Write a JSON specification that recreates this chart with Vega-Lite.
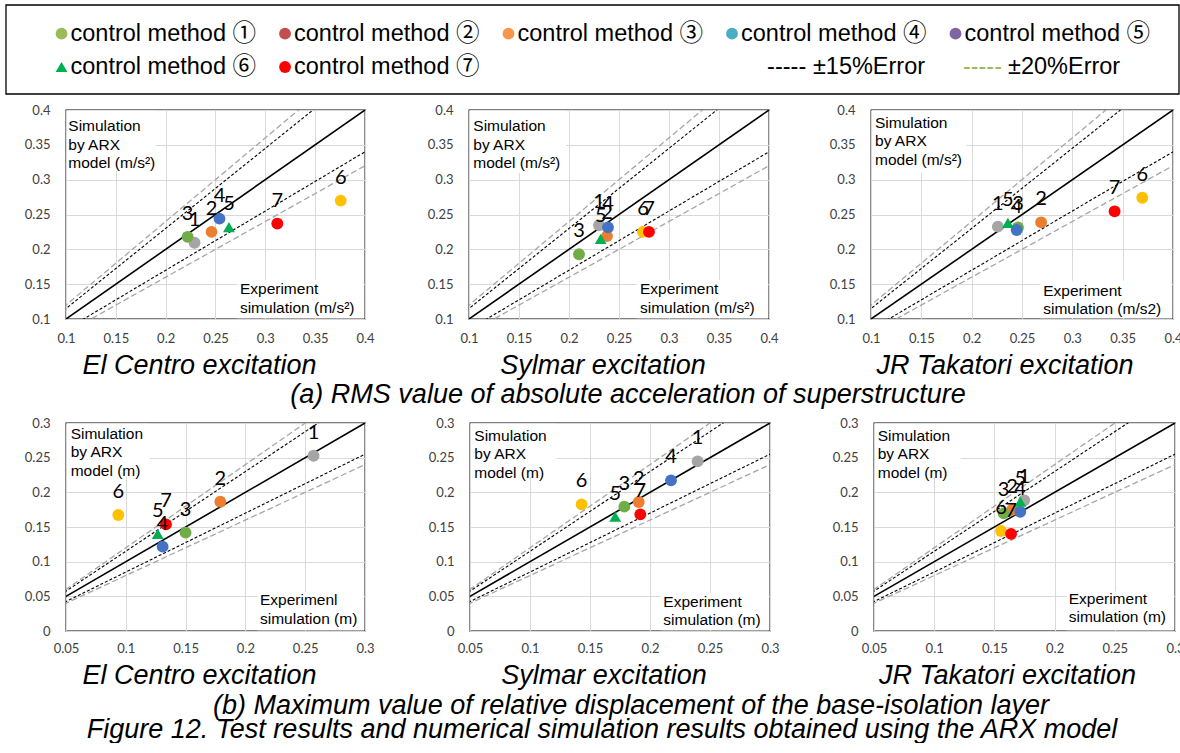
{
  "$schema": "https://vega.github.io/schema/vega-lite/v6.json",
  "background": "white",
  "padding": {"left": 5, "top": 4, "right": 0, "bottom": 0},
  "spacing": 8,
  "resolve": {"scale": {"color": "independent", "shape": "independent"}},
  "title": {"text": "Figure 12. Test results and numerical simulation results obtained using the ARX model", "orient": "bottom", "anchor": "middle", "offset": -2, "dx": 7},
  "datasets": {
    "legend": [
      {"method": "①", "label": "control method ①", "col": 0, "row": 1},
      {"method": "②", "label": "control method ②", "col": 1, "row": 1},
      {"method": "③", "label": "control method ③", "col": 2, "row": 1},
      {"method": "④", "label": "control method ④", "col": 3, "row": 1},
      {"method": "⑤", "label": "control method ⑤", "col": 4, "row": 1},
      {"method": "⑥", "label": "control method ⑥", "col": 0, "row": 2},
      {"method": "⑦", "label": "control method ⑦", "col": 1, "row": 2}
    ],
    "lines": [
      {"k": "1", "x": 0, "y": 0}, {"k": "1", "x": 0.5, "y": 0.5},
      {"k": "1.15", "x": 0, "y": 0}, {"k": "1.15", "x": 0.5, "y": 0.575},
      {"k": "0.85", "x": 0, "y": 0}, {"k": "0.85", "x": 0.5, "y": 0.425},
      {"k": "1.2", "x": 0, "y": 0}, {"k": "1.2", "x": 0.5, "y": 0.6},
      {"k": "0.8", "x": 0, "y": 0}, {"k": "0.8", "x": 0.5, "y": 0.4}
    ],
    "pts": [
      {"panel": "a1", "method": 1, "x": 0.229, "y": 0.2095},
      {"panel": "a1", "method": 2, "x": 0.246, "y": 0.225},
      {"panel": "a1", "method": 3, "x": 0.222, "y": 0.218},
      {"panel": "a1", "method": 4, "x": 0.254, "y": 0.244},
      {"panel": "a1", "method": 5, "x": 0.2635, "y": 0.232},
      {"panel": "a1", "method": 6, "x": 0.3756, "y": 0.27},
      {"panel": "a1", "method": 7, "x": 0.312, "y": 0.237},
      {"panel": "a2", "method": 1, "x": 0.23, "y": 0.2345},
      {"panel": "a2", "method": 2, "x": 0.238, "y": 0.219},
      {"panel": "a2", "method": 3, "x": 0.21, "y": 0.193},
      {"panel": "a2", "method": 4, "x": 0.239, "y": 0.2316},
      {"panel": "a2", "method": 5, "x": 0.2317, "y": 0.215},
      {"panel": "a2", "method": 6, "x": 0.274, "y": 0.225},
      {"panel": "a2", "method": 7, "x": 0.28, "y": 0.225},
      {"panel": "a3", "method": 1, "x": 0.226, "y": 0.2325},
      {"panel": "a3", "method": 2, "x": 0.269, "y": 0.2388},
      {"panel": "a3", "method": 3, "x": 0.246, "y": 0.2316},
      {"panel": "a3", "method": 4, "x": 0.2447, "y": 0.2278},
      {"panel": "a3", "method": 5, "x": 0.236, "y": 0.238},
      {"panel": "a3", "method": 6, "x": 0.3695, "y": 0.274},
      {"panel": "a3", "method": 7, "x": 0.342, "y": 0.2546},
      {"panel": "b1", "method": 1, "x": 0.257, "y": 0.2528},
      {"panel": "b1", "method": 2, "x": 0.179, "y": 0.1865},
      {"panel": "b1", "method": 3, "x": 0.15, "y": 0.1418},
      {"panel": "b1", "method": 4, "x": 0.1308, "y": 0.1216},
      {"panel": "b1", "method": 5, "x": 0.1267, "y": 0.14},
      {"panel": "b1", "method": 6, "x": 0.0937, "y": 0.1673},
      {"panel": "b1", "method": 7, "x": 0.1336, "y": 0.1538},
      {"panel": "b2", "method": 1, "x": 0.2397, "y": 0.2447},
      {"panel": "b2", "method": 2, "x": 0.1906, "y": 0.186},
      {"panel": "b2", "method": 3, "x": 0.1786, "y": 0.1793},
      {"panel": "b2", "method": 4, "x": 0.2175, "y": 0.2173},
      {"panel": "b2", "method": 5, "x": 0.171, "y": 0.165},
      {"panel": "b2", "method": 6, "x": 0.143, "y": 0.1827},
      {"panel": "b2", "method": 7, "x": 0.1919, "y": 0.1683},
      {"panel": "b3", "method": 1, "x": 0.1748, "y": 0.1885},
      {"panel": "b3", "method": 2, "x": 0.1646, "y": 0.1745},
      {"panel": "b3", "method": 3, "x": 0.1577, "y": 0.1697},
      {"panel": "b3", "method": 4, "x": 0.1715, "y": 0.172},
      {"panel": "b3", "method": 5, "x": 0.1715, "y": 0.1865},
      {"panel": "b3", "method": 6, "x": 0.1555, "y": 0.1442},
      {"panel": "b3", "method": 7, "x": 0.1638, "y": 0.14}
    ]
  },
  "vconcat": [
    {
      "width": 1113,
      "height": 89,
      "view": {"stroke": null},
      "layer": [
        {
          "data": {"values": [{}]},
          "mark": {"type": "rect", "fill": null, "stroke": "#000000", "strokeWidth": 1.3, "clip": false},
          "encoding": {
            "x": {"datum": -0.2485, "type": "quantitative", "scale": {"domain": [0.02, 5], "nice": false, "zero": false}, "axis": null}, "x2": {"datum": 5},
            "y": {"datum": 0.14, "type": "quantitative", "scale": {"domain": [0.14, 2.81], "reverse": true, "nice": false, "zero": false}, "axis": null}, "y2": {"datum": 2.81}
          }
        },
        {
          "data": {"name": "legend"},
          "mark": {"type": "point", "filled": true, "opacity": 1, "size": 140, "clip": false},
          "encoding": {
            "x": {"field": "col", "type": "quantitative", "scale": {"domain": [0.02, 5], "nice": false, "zero": false}, "axis": null},
            "y": {"field": "row", "type": "quantitative", "scale": {"domain": [0.14, 2.81], "reverse": true, "nice": false, "zero": false}, "axis": null},
            "color": {"field": "method", "type": "nominal", "scale": {"domain": ["①", "②", "③", "④", "⑤", "⑥", "⑦"], "range": ["#9BBB59", "#C0504D", "#F79646", "#4BACC6", "#8064A2", "#00B050", "#FF0000"]}, "legend": null},
            "shape": {"field": "method", "type": "nominal", "scale": {"domain": ["①", "②", "③", "④", "⑤", "⑥", "⑦"], "range": ["circle", "circle", "circle", "circle", "circle", "triangle-up", "circle"]}, "legend": null}
          }
        },
        {
          "data": {"name": "legend"},
          "mark": {"type": "text", "align": "left", "baseline": "middle", "dx": 9, "font": "Liberation Sans, Noto Sans CJK JP", "fontSize": 23.5, "color": "#000000"},
          "encoding": {
            "x": {"field": "col", "type": "quantitative", "scale": {"domain": [0.02, 5], "nice": false, "zero": false}, "axis": null},
            "y": {"field": "row", "type": "quantitative", "scale": {"domain": [0.14, 2.81], "reverse": true, "nice": false, "zero": false}, "axis": null},
            "text": {"field": "label"}
          }
        },
        {
          "data": {"values": [{}]},
          "mark": {"type": "text", "align": "left", "baseline": "middle", "font": "Liberation Sans", "fontSize": 23.5, "color": "#000000", "text": "-----"},
          "encoding": {"x": {"datum": 3.157, "type": "quantitative", "scale": {"domain": [0.02, 5], "nice": false, "zero": false}, "axis": null}, "y": {"datum": 2, "type": "quantitative", "scale": {"domain": [0.14, 2.81], "reverse": true, "nice": false, "zero": false}, "axis": null}}
        },
        {
          "data": {"values": [{}]},
          "mark": {"type": "text", "align": "left", "baseline": "middle", "font": "Liberation Sans, Noto Sans CJK JP", "fontSize": 23.5, "color": "#000000", "text": "±15%Error"},
          "encoding": {"x": {"datum": 3.362, "type": "quantitative", "scale": {"domain": [0.02, 5], "nice": false, "zero": false}, "axis": null}, "y": {"datum": 2, "type": "quantitative", "scale": {"domain": [0.14, 2.81], "reverse": true, "nice": false, "zero": false}, "axis": null}}
        },
        {
          "data": {"values": [{}]},
          "mark": {"type": "text", "align": "left", "baseline": "middle", "font": "Liberation Sans", "fontSize": 23.5, "color": "#9BBB59", "text": "-----"},
          "encoding": {"x": {"datum": 4.033, "type": "quantitative", "scale": {"domain": [0.02, 5], "nice": false, "zero": false}, "axis": null}, "y": {"datum": 2, "type": "quantitative", "scale": {"domain": [0.14, 2.81], "reverse": true, "nice": false, "zero": false}, "axis": null}}
        },
        {
          "data": {"values": [{}]},
          "mark": {"type": "text", "align": "left", "baseline": "middle", "font": "Liberation Sans, Noto Sans CJK JP", "fontSize": 23.5, "color": "#000000", "text": "±20%Error"},
          "encoding": {"x": {"datum": 4.235, "type": "quantitative", "scale": {"domain": [0.02, 5], "nice": false, "zero": false}, "axis": null}, "y": {"datum": 2, "type": "quantitative", "scale": {"domain": [0.14, 2.81], "reverse": true, "nice": false, "zero": false}, "axis": null}}
        }
      ]
    },
    {
      "title": {"text": "(a)  RMS value of absolute acceleration of superstructure", "orient": "bottom", "anchor": "middle", "offset": 2, "dx": 34},
      "spacing": 0,
      "hconcat": [
        {
          "width": 299, "height": 209,
          "title": {"text": "El Centro excitation", "orient": "bottom", "frame": "group", "dx": -16, "offset": 8},
          "layer": [
            {"data": {"values": [{}]}, "mark": {"type": "rect", "fill": "white"},
             "encoding": {"x": {"datum": 0.101, "type": "quantitative", "scale": {"domain": [0.1, 0.4], "nice": false, "zero": false}, "axis": {"title": null, "values": [0.1, 0.15, 0.2, 0.25, 0.3, 0.35, 0.4], "labelPadding": 13}}, "x2": {"datum": 0.19},
               "y": {"datum": 0.312, "type": "quantitative", "scale": {"domain": [0.1, 0.4], "nice": false, "zero": false}, "axis": {"title": null, "values": [0.1, 0.15, 0.2, 0.25, 0.3, 0.35, 0.4], "minExtent": 60}}, "y2": {"datum": 0.399}}},
            {"data": {"values": [{}]}, "mark": {"type": "rect", "fill": "white"},
             "encoding": {"x": {"datum": 0.272, "type": "quantitative", "scale": {"domain": [0.1, 0.4], "nice": false, "zero": false}, "axis": {"title": null, "values": [0.1, 0.15, 0.2, 0.25, 0.3, 0.35, 0.4], "labelPadding": 13}}, "x2": {"datum": 0.399},
               "y": {"datum": 0.101, "type": "quantitative", "scale": {"domain": [0.1, 0.4], "nice": false, "zero": false}, "axis": {"title": null, "values": [0.1, 0.15, 0.2, 0.25, 0.3, 0.35, 0.4], "minExtent": 60}}, "y2": {"datum": 0.156}}},
            {"data": {"name": "lines"}, "transform": [{"filter": "datum.k === '1.2' || datum.k === '0.8'"}], "mark": {"type": "line", "clip": true, "color": "#A6A6A6", "strokeWidth": 1.3, "strokeDash": [6, 3]},
             "encoding": {"x": {"field": "x", "type": "quantitative", "scale": {"domain": [0.1, 0.4], "nice": false, "zero": false}, "axis": {"title": null, "values": [0.1, 0.15, 0.2, 0.25, 0.3, 0.35, 0.4], "labelPadding": 13}},
               "y": {"field": "y", "type": "quantitative", "scale": {"domain": [0.1, 0.4], "nice": false, "zero": false}, "axis": {"title": null, "values": [0.1, 0.15, 0.2, 0.25, 0.3, 0.35, 0.4], "minExtent": 60}}, "detail": {"field": "k"}}},
            {"data": {"name": "lines"}, "transform": [{"filter": "datum.k === '1.15' || datum.k === '0.85'"}], "mark": {"type": "line", "clip": true, "color": "#000000", "strokeWidth": 1.1, "strokeDash": [3, 2]},
             "encoding": {"x": {"field": "x", "type": "quantitative", "scale": {"domain": [0.1, 0.4], "nice": false, "zero": false}, "axis": {"title": null, "values": [0.1, 0.15, 0.2, 0.25, 0.3, 0.35, 0.4], "labelPadding": 13}},
               "y": {"field": "y", "type": "quantitative", "scale": {"domain": [0.1, 0.4], "nice": false, "zero": false}, "axis": {"title": null, "values": [0.1, 0.15, 0.2, 0.25, 0.3, 0.35, 0.4], "minExtent": 60}}, "detail": {"field": "k"}}},
            {"data": {"name": "lines"}, "transform": [{"filter": "datum.k === '1'"}], "mark": {"type": "line", "clip": true, "color": "#000000", "strokeWidth": 1.6},
             "encoding": {"x": {"field": "x", "type": "quantitative", "scale": {"domain": [0.1, 0.4], "nice": false, "zero": false}, "axis": {"title": null, "values": [0.1, 0.15, 0.2, 0.25, 0.3, 0.35, 0.4], "labelPadding": 13}},
               "y": {"field": "y", "type": "quantitative", "scale": {"domain": [0.1, 0.4], "nice": false, "zero": false}, "axis": {"title": null, "values": [0.1, 0.15, 0.2, 0.25, 0.3, 0.35, 0.4], "minExtent": 60}}, "detail": {"field": "k"}}},
            {"data": {"name": "pts"}, "transform": [{"filter": "datum.panel === 'a1'"}], "mark": {"type": "point", "filled": true, "opacity": 1, "size": 140},
             "encoding": {"x": {"field": "x", "type": "quantitative", "scale": {"domain": [0.1, 0.4], "nice": false, "zero": false}, "axis": {"title": null, "values": [0.1, 0.15, 0.2, 0.25, 0.3, 0.35, 0.4], "labelPadding": 13}},
               "y": {"field": "y", "type": "quantitative", "scale": {"domain": [0.1, 0.4], "nice": false, "zero": false}, "axis": {"title": null, "values": [0.1, 0.15, 0.2, 0.25, 0.3, 0.35, 0.4], "minExtent": 60}},
               "color": {"field": "method", "type": "nominal", "scale": {"domain": [1, 2, 3, 4, 5, 6, 7], "range": ["#A5A5A5", "#ED7D31", "#70AD47", "#4472C4", "#00B050", "#FFC000", "#FF0000"]}, "legend": null},
               "shape": {"field": "method", "type": "nominal", "scale": {"domain": [1, 2, 3, 4, 5, 6, 7], "range": ["circle", "circle", "circle", "circle", "triangle-up", "circle", "circle"]}, "legend": null}}},
            {"data": {"name": "pts"}, "transform": [{"filter": "datum.panel === 'a1'"}], "mark": {"type": "text", "font": "Lato", "fontSize": 20, "dy": -23, "baseline": "middle", "color": "#000000"},
             "encoding": {"x": {"field": "x", "type": "quantitative", "scale": {"domain": [0.1, 0.4], "nice": false, "zero": false}, "axis": {"title": null, "values": [0.1, 0.15, 0.2, 0.25, 0.3, 0.35, 0.4], "labelPadding": 13}},
               "y": {"field": "y", "type": "quantitative", "scale": {"domain": [0.1, 0.4], "nice": false, "zero": false}, "axis": {"title": null, "values": [0.1, 0.15, 0.2, 0.25, 0.3, 0.35, 0.4], "minExtent": 60}}, "text": {"field": "method"}}},
            {"data": {"values": [{}]}, "mark": {"type": "text", "align": "left", "baseline": "middle", "font": "Liberation Sans", "fontSize": 15.5, "lineHeight": 18.5, "color": "#000000", "lineBreak": "\n", "text": "Simulation\nby ARX\nmodel (m/s²)"},
             "encoding": {"x": {"datum": 0.1023, "type": "quantitative", "scale": {"domain": [0.1, 0.4], "nice": false, "zero": false}, "axis": {"title": null, "values": [0.1, 0.15, 0.2, 0.25, 0.3, 0.35, 0.4], "labelPadding": 13}},
               "y": {"datum": 0.3769, "type": "quantitative", "scale": {"domain": [0.1, 0.4], "nice": false, "zero": false}, "axis": {"title": null, "values": [0.1, 0.15, 0.2, 0.25, 0.3, 0.35, 0.4], "minExtent": 60}}}},
            {"data": {"values": [{}]}, "mark": {"type": "text", "align": "left", "baseline": "middle", "font": "Liberation Sans", "fontSize": 15.5, "lineHeight": 18.5, "color": "#000000", "lineBreak": "\n", "text": "Experiment\nsimulation (m/s²)"},
             "encoding": {"x": {"datum": 0.2745, "type": "quantitative", "scale": {"domain": [0.1, 0.4], "nice": false, "zero": false}, "axis": {"title": null, "values": [0.1, 0.15, 0.2, 0.25, 0.3, 0.35, 0.4], "labelPadding": 13}},
               "y": {"datum": 0.143, "type": "quantitative", "scale": {"domain": [0.1, 0.4], "nice": false, "zero": false}, "axis": {"title": null, "values": [0.1, 0.15, 0.2, 0.25, 0.3, 0.35, 0.4], "minExtent": 60}}}}
          ]
        },
        {
          "width": 300, "height": 209,
          "title": {"text": "Sylmar excitation", "orient": "bottom", "frame": "group", "dx": -16, "offset": 8},
          "layer": [
            {"data": {"values": [{}]}, "mark": {"type": "rect", "fill": "white"},
             "encoding": {"x": {"datum": 0.101, "type": "quantitative", "scale": {"domain": [0.1, 0.4], "nice": false, "zero": false}, "axis": {"title": null, "values": [0.1, 0.15, 0.2, 0.25, 0.3, 0.35, 0.4], "labelPadding": 13}}, "x2": {"datum": 0.197},
               "y": {"datum": 0.31, "type": "quantitative", "scale": {"domain": [0.1, 0.4], "nice": false, "zero": false}, "axis": {"title": null, "values": [0.1, 0.15, 0.2, 0.25, 0.3, 0.35, 0.4], "minExtent": 93}}, "y2": {"datum": 0.399}}},
            {"data": {"values": [{}]}, "mark": {"type": "rect", "fill": "white"},
             "encoding": {"x": {"datum": 0.268, "type": "quantitative", "scale": {"domain": [0.1, 0.4], "nice": false, "zero": false}, "axis": {"title": null, "values": [0.1, 0.15, 0.2, 0.25, 0.3, 0.35, 0.4], "labelPadding": 13}}, "x2": {"datum": 0.399},
               "y": {"datum": 0.101, "type": "quantitative", "scale": {"domain": [0.1, 0.4], "nice": false, "zero": false}, "axis": {"title": null, "values": [0.1, 0.15, 0.2, 0.25, 0.3, 0.35, 0.4], "minExtent": 93}}, "y2": {"datum": 0.156}}},
            {"data": {"name": "lines"}, "transform": [{"filter": "datum.k === '1.2' || datum.k === '0.8'"}], "mark": {"type": "line", "clip": true, "color": "#A6A6A6", "strokeWidth": 1.3, "strokeDash": [6, 3]},
             "encoding": {"x": {"field": "x", "type": "quantitative", "scale": {"domain": [0.1, 0.4], "nice": false, "zero": false}, "axis": {"title": null, "values": [0.1, 0.15, 0.2, 0.25, 0.3, 0.35, 0.4], "labelPadding": 13}},
               "y": {"field": "y", "type": "quantitative", "scale": {"domain": [0.1, 0.4], "nice": false, "zero": false}, "axis": {"title": null, "values": [0.1, 0.15, 0.2, 0.25, 0.3, 0.35, 0.4], "minExtent": 93}}, "detail": {"field": "k"}}},
            {"data": {"name": "lines"}, "transform": [{"filter": "datum.k === '1.15' || datum.k === '0.85'"}], "mark": {"type": "line", "clip": true, "color": "#000000", "strokeWidth": 1.1, "strokeDash": [3, 2]},
             "encoding": {"x": {"field": "x", "type": "quantitative", "scale": {"domain": [0.1, 0.4], "nice": false, "zero": false}, "axis": {"title": null, "values": [0.1, 0.15, 0.2, 0.25, 0.3, 0.35, 0.4], "labelPadding": 13}},
               "y": {"field": "y", "type": "quantitative", "scale": {"domain": [0.1, 0.4], "nice": false, "zero": false}, "axis": {"title": null, "values": [0.1, 0.15, 0.2, 0.25, 0.3, 0.35, 0.4], "minExtent": 93}}, "detail": {"field": "k"}}},
            {"data": {"name": "lines"}, "transform": [{"filter": "datum.k === '1'"}], "mark": {"type": "line", "clip": true, "color": "#000000", "strokeWidth": 1.6},
             "encoding": {"x": {"field": "x", "type": "quantitative", "scale": {"domain": [0.1, 0.4], "nice": false, "zero": false}, "axis": {"title": null, "values": [0.1, 0.15, 0.2, 0.25, 0.3, 0.35, 0.4], "labelPadding": 13}},
               "y": {"field": "y", "type": "quantitative", "scale": {"domain": [0.1, 0.4], "nice": false, "zero": false}, "axis": {"title": null, "values": [0.1, 0.15, 0.2, 0.25, 0.3, 0.35, 0.4], "minExtent": 93}}, "detail": {"field": "k"}}},
            {"data": {"name": "pts"}, "transform": [{"filter": "datum.panel === 'a2'"}], "mark": {"type": "point", "filled": true, "opacity": 1, "size": 140},
             "encoding": {"x": {"field": "x", "type": "quantitative", "scale": {"domain": [0.1, 0.4], "nice": false, "zero": false}, "axis": {"title": null, "values": [0.1, 0.15, 0.2, 0.25, 0.3, 0.35, 0.4], "labelPadding": 13}},
               "y": {"field": "y", "type": "quantitative", "scale": {"domain": [0.1, 0.4], "nice": false, "zero": false}, "axis": {"title": null, "values": [0.1, 0.15, 0.2, 0.25, 0.3, 0.35, 0.4], "minExtent": 93}},
               "color": {"field": "method", "type": "nominal", "scale": {"domain": [1, 2, 3, 4, 5, 6, 7], "range": ["#A5A5A5", "#ED7D31", "#70AD47", "#4472C4", "#00B050", "#FFC000", "#FF0000"]}, "legend": null},
               "shape": {"field": "method", "type": "nominal", "scale": {"domain": [1, 2, 3, 4, 5, 6, 7], "range": ["circle", "circle", "circle", "circle", "triangle-up", "circle", "circle"]}, "legend": null}}},
            {"data": {"name": "pts"}, "transform": [{"filter": "datum.panel === 'a2'"}], "mark": {"type": "text", "font": "Lato", "fontSize": 20, "dy": -23, "baseline": "middle", "color": "#000000"},
             "encoding": {"x": {"field": "x", "type": "quantitative", "scale": {"domain": [0.1, 0.4], "nice": false, "zero": false}, "axis": {"title": null, "values": [0.1, 0.15, 0.2, 0.25, 0.3, 0.35, 0.4], "labelPadding": 13}},
               "y": {"field": "y", "type": "quantitative", "scale": {"domain": [0.1, 0.4], "nice": false, "zero": false}, "axis": {"title": null, "values": [0.1, 0.15, 0.2, 0.25, 0.3, 0.35, 0.4], "minExtent": 93}}, "text": {"field": "method"}}},
            {"data": {"values": [{}]}, "mark": {"type": "text", "align": "left", "baseline": "middle", "font": "Liberation Sans", "fontSize": 15.5, "lineHeight": 18.5, "color": "#000000", "lineBreak": "\n", "text": "Simulation\nby ARX\nmodel (m/s²)"},
             "encoding": {"x": {"datum": 0.1043, "type": "quantitative", "scale": {"domain": [0.1, 0.4], "nice": false, "zero": false}, "axis": {"title": null, "values": [0.1, 0.15, 0.2, 0.25, 0.3, 0.35, 0.4], "labelPadding": 13}},
               "y": {"datum": 0.3769, "type": "quantitative", "scale": {"domain": [0.1, 0.4], "nice": false, "zero": false}, "axis": {"title": null, "values": [0.1, 0.15, 0.2, 0.25, 0.3, 0.35, 0.4], "minExtent": 93}}}},
            {"data": {"values": [{}]}, "mark": {"type": "text", "align": "left", "baseline": "middle", "font": "Liberation Sans", "fontSize": 15.5, "lineHeight": 18.5, "color": "#000000", "lineBreak": "\n", "text": "Experiment\nsimulation (m/s²)"},
             "encoding": {"x": {"datum": 0.271, "type": "quantitative", "scale": {"domain": [0.1, 0.4], "nice": false, "zero": false}, "axis": {"title": null, "values": [0.1, 0.15, 0.2, 0.25, 0.3, 0.35, 0.4], "labelPadding": 13}},
               "y": {"datum": 0.143, "type": "quantitative", "scale": {"domain": [0.1, 0.4], "nice": false, "zero": false}, "axis": {"title": null, "values": [0.1, 0.15, 0.2, 0.25, 0.3, 0.35, 0.4], "minExtent": 93}}}}
          ]
        },
        {
          "width": 302, "height": 209,
          "title": {"text": "JR Takatori excitation", "orient": "bottom", "frame": "group", "dx": -17, "offset": 8},
          "layer": [
            {"data": {"values": [{}]}, "mark": {"type": "rect", "fill": "white"},
             "encoding": {"x": {"datum": 0.101, "type": "quantitative", "scale": {"domain": [0.1, 0.4], "nice": false, "zero": false}, "axis": {"title": null, "values": [0.1, 0.15, 0.2, 0.25, 0.3, 0.35, 0.4], "labelPadding": 13}}, "x2": {"datum": 0.195},
               "y": {"datum": 0.31, "type": "quantitative", "scale": {"domain": [0.1, 0.4], "nice": false, "zero": false}, "axis": {"title": null, "values": [0.1, 0.15, 0.2, 0.25, 0.3, 0.35, 0.4], "minExtent": 91}}, "y2": {"datum": 0.399}}},
            {"data": {"values": [{}]}, "mark": {"type": "rect", "fill": "white"},
             "encoding": {"x": {"datum": 0.268, "type": "quantitative", "scale": {"domain": [0.1, 0.4], "nice": false, "zero": false}, "axis": {"title": null, "values": [0.1, 0.15, 0.2, 0.25, 0.3, 0.35, 0.4], "labelPadding": 13}}, "x2": {"datum": 0.399},
               "y": {"datum": 0.101, "type": "quantitative", "scale": {"domain": [0.1, 0.4], "nice": false, "zero": false}, "axis": {"title": null, "values": [0.1, 0.15, 0.2, 0.25, 0.3, 0.35, 0.4], "minExtent": 91}}, "y2": {"datum": 0.155}}},
            {"data": {"name": "lines"}, "transform": [{"filter": "datum.k === '1.2' || datum.k === '0.8'"}], "mark": {"type": "line", "clip": true, "color": "#A6A6A6", "strokeWidth": 1.3, "strokeDash": [6, 3]},
             "encoding": {"x": {"field": "x", "type": "quantitative", "scale": {"domain": [0.1, 0.4], "nice": false, "zero": false}, "axis": {"title": null, "values": [0.1, 0.15, 0.2, 0.25, 0.3, 0.35, 0.4], "labelPadding": 13}},
               "y": {"field": "y", "type": "quantitative", "scale": {"domain": [0.1, 0.4], "nice": false, "zero": false}, "axis": {"title": null, "values": [0.1, 0.15, 0.2, 0.25, 0.3, 0.35, 0.4], "minExtent": 91}}, "detail": {"field": "k"}}},
            {"data": {"name": "lines"}, "transform": [{"filter": "datum.k === '1.15' || datum.k === '0.85'"}], "mark": {"type": "line", "clip": true, "color": "#000000", "strokeWidth": 1.1, "strokeDash": [3, 2]},
             "encoding": {"x": {"field": "x", "type": "quantitative", "scale": {"domain": [0.1, 0.4], "nice": false, "zero": false}, "axis": {"title": null, "values": [0.1, 0.15, 0.2, 0.25, 0.3, 0.35, 0.4], "labelPadding": 13}},
               "y": {"field": "y", "type": "quantitative", "scale": {"domain": [0.1, 0.4], "nice": false, "zero": false}, "axis": {"title": null, "values": [0.1, 0.15, 0.2, 0.25, 0.3, 0.35, 0.4], "minExtent": 91}}, "detail": {"field": "k"}}},
            {"data": {"name": "lines"}, "transform": [{"filter": "datum.k === '1'"}], "mark": {"type": "line", "clip": true, "color": "#000000", "strokeWidth": 1.6},
             "encoding": {"x": {"field": "x", "type": "quantitative", "scale": {"domain": [0.1, 0.4], "nice": false, "zero": false}, "axis": {"title": null, "values": [0.1, 0.15, 0.2, 0.25, 0.3, 0.35, 0.4], "labelPadding": 13}},
               "y": {"field": "y", "type": "quantitative", "scale": {"domain": [0.1, 0.4], "nice": false, "zero": false}, "axis": {"title": null, "values": [0.1, 0.15, 0.2, 0.25, 0.3, 0.35, 0.4], "minExtent": 91}}, "detail": {"field": "k"}}},
            {"data": {"name": "pts"}, "transform": [{"filter": "datum.panel === 'a3'"}], "mark": {"type": "point", "filled": true, "opacity": 1, "size": 140},
             "encoding": {"x": {"field": "x", "type": "quantitative", "scale": {"domain": [0.1, 0.4], "nice": false, "zero": false}, "axis": {"title": null, "values": [0.1, 0.15, 0.2, 0.25, 0.3, 0.35, 0.4], "labelPadding": 13}},
               "y": {"field": "y", "type": "quantitative", "scale": {"domain": [0.1, 0.4], "nice": false, "zero": false}, "axis": {"title": null, "values": [0.1, 0.15, 0.2, 0.25, 0.3, 0.35, 0.4], "minExtent": 91}},
               "color": {"field": "method", "type": "nominal", "scale": {"domain": [1, 2, 3, 4, 5, 6, 7], "range": ["#A5A5A5", "#ED7D31", "#70AD47", "#4472C4", "#00B050", "#FFC000", "#FF0000"]}, "legend": null},
               "shape": {"field": "method", "type": "nominal", "scale": {"domain": [1, 2, 3, 4, 5, 6, 7], "range": ["circle", "circle", "circle", "circle", "triangle-up", "circle", "circle"]}, "legend": null}}},
            {"data": {"name": "pts"}, "transform": [{"filter": "datum.panel === 'a3'"}], "mark": {"type": "text", "font": "Lato", "fontSize": 20, "dy": -23, "baseline": "middle", "color": "#000000"},
             "encoding": {"x": {"field": "x", "type": "quantitative", "scale": {"domain": [0.1, 0.4], "nice": false, "zero": false}, "axis": {"title": null, "values": [0.1, 0.15, 0.2, 0.25, 0.3, 0.35, 0.4], "labelPadding": 13}},
               "y": {"field": "y", "type": "quantitative", "scale": {"domain": [0.1, 0.4], "nice": false, "zero": false}, "axis": {"title": null, "values": [0.1, 0.15, 0.2, 0.25, 0.3, 0.35, 0.4], "minExtent": 91}}, "text": {"field": "method"}}},
            {"data": {"values": [{}]}, "mark": {"type": "text", "align": "left", "baseline": "middle", "font": "Liberation Sans", "fontSize": 15.5, "lineHeight": 18.5, "color": "#000000", "lineBreak": "\n", "text": "Simulation\nby ARX\nmodel (m/s²)"},
             "encoding": {"x": {"datum": 0.104, "type": "quantitative", "scale": {"domain": [0.1, 0.4], "nice": false, "zero": false}, "axis": {"title": null, "values": [0.1, 0.15, 0.2, 0.25, 0.3, 0.35, 0.4], "labelPadding": 13}},
               "y": {"datum": 0.3816, "type": "quantitative", "scale": {"domain": [0.1, 0.4], "nice": false, "zero": false}, "axis": {"title": null, "values": [0.1, 0.15, 0.2, 0.25, 0.3, 0.35, 0.4], "minExtent": 91}}}},
            {"data": {"values": [{}]}, "mark": {"type": "text", "align": "left", "baseline": "middle", "font": "Liberation Sans", "fontSize": 15.5, "lineHeight": 18.5, "color": "#000000", "lineBreak": "\n", "text": "Experiment\nsimulation (m/s2)"},
             "encoding": {"x": {"datum": 0.2711, "type": "quantitative", "scale": {"domain": [0.1, 0.4], "nice": false, "zero": false}, "axis": {"title": null, "values": [0.1, 0.15, 0.2, 0.25, 0.3, 0.35, 0.4], "labelPadding": 13}},
               "y": {"datum": 0.1402, "type": "quantitative", "scale": {"domain": [0.1, 0.4], "nice": false, "zero": false}, "axis": {"title": null, "values": [0.1, 0.15, 0.2, 0.25, 0.3, 0.35, 0.4], "minExtent": 91}}}}
          ]
        }
      ]
    },
    {
      "title": {"text": "(b)  Maximum value of relative displacement of the base-isolation layer", "orient": "bottom", "anchor": "middle", "offset": 3, "dx": 36},
      "spacing": 0,
      "hconcat": [
        {
          "width": 299, "height": 208,
          "title": {"text": "El Centro excitation", "orient": "bottom", "frame": "group", "dx": -16, "offset": 8},
          "layer": [
            {"data": {"values": [{}]}, "mark": {"type": "rect", "fill": "white"},
             "encoding": {"x": {"datum": 0.051, "type": "quantitative", "scale": {"domain": [0.05, 0.3], "nice": false, "zero": false}, "axis": {"title": null, "values": [0.05, 0.1, 0.15, 0.2, 0.25, 0.3]}}, "x2": {"datum": 0.12},
               "y": {"datum": 0.222, "type": "quantitative", "scale": {"domain": [0, 0.3], "nice": false, "zero": false}, "axis": {"title": null, "values": [0, 0.05, 0.1, 0.15, 0.2, 0.25, 0.3], "minExtent": 60}}, "y2": {"datum": 0.299}}},
            {"data": {"values": [{}]}, "mark": {"type": "rect", "fill": "white"},
             "encoding": {"x": {"datum": 0.21, "type": "quantitative", "scale": {"domain": [0.05, 0.3], "nice": false, "zero": false}, "axis": {"title": null, "values": [0.05, 0.1, 0.15, 0.2, 0.25, 0.3]}}, "x2": {"datum": 0.299},
               "y": {"datum": 0.001, "type": "quantitative", "scale": {"domain": [0, 0.3], "nice": false, "zero": false}, "axis": {"title": null, "values": [0, 0.05, 0.1, 0.15, 0.2, 0.25, 0.3], "minExtent": 60}}, "y2": {"datum": 0.056}}},
            {"data": {"name": "lines"}, "transform": [{"filter": "datum.k === '1.2' || datum.k === '0.8'"}], "mark": {"type": "line", "clip": true, "color": "#A6A6A6", "strokeWidth": 1.3, "strokeDash": [6, 3]},
             "encoding": {"x": {"field": "x", "type": "quantitative", "scale": {"domain": [0.05, 0.3], "nice": false, "zero": false}, "axis": {"title": null, "values": [0.05, 0.1, 0.15, 0.2, 0.25, 0.3]}},
               "y": {"field": "y", "type": "quantitative", "scale": {"domain": [0, 0.3], "nice": false, "zero": false}, "axis": {"title": null, "values": [0, 0.05, 0.1, 0.15, 0.2, 0.25, 0.3], "minExtent": 60}}, "detail": {"field": "k"}}},
            {"data": {"name": "lines"}, "transform": [{"filter": "datum.k === '1.15' || datum.k === '0.85'"}], "mark": {"type": "line", "clip": true, "color": "#000000", "strokeWidth": 1.1, "strokeDash": [3, 2]},
             "encoding": {"x": {"field": "x", "type": "quantitative", "scale": {"domain": [0.05, 0.3], "nice": false, "zero": false}, "axis": {"title": null, "values": [0.05, 0.1, 0.15, 0.2, 0.25, 0.3]}},
               "y": {"field": "y", "type": "quantitative", "scale": {"domain": [0, 0.3], "nice": false, "zero": false}, "axis": {"title": null, "values": [0, 0.05, 0.1, 0.15, 0.2, 0.25, 0.3], "minExtent": 60}}, "detail": {"field": "k"}}},
            {"data": {"name": "lines"}, "transform": [{"filter": "datum.k === '1'"}], "mark": {"type": "line", "clip": true, "color": "#000000", "strokeWidth": 1.6},
             "encoding": {"x": {"field": "x", "type": "quantitative", "scale": {"domain": [0.05, 0.3], "nice": false, "zero": false}, "axis": {"title": null, "values": [0.05, 0.1, 0.15, 0.2, 0.25, 0.3]}},
               "y": {"field": "y", "type": "quantitative", "scale": {"domain": [0, 0.3], "nice": false, "zero": false}, "axis": {"title": null, "values": [0, 0.05, 0.1, 0.15, 0.2, 0.25, 0.3], "minExtent": 60}}, "detail": {"field": "k"}}},
            {"data": {"name": "pts"}, "transform": [{"filter": "datum.panel === 'b1'"}], "mark": {"type": "point", "filled": true, "opacity": 1, "size": 140},
             "encoding": {"x": {"field": "x", "type": "quantitative", "scale": {"domain": [0.05, 0.3], "nice": false, "zero": false}, "axis": {"title": null, "values": [0.05, 0.1, 0.15, 0.2, 0.25, 0.3]}},
               "y": {"field": "y", "type": "quantitative", "scale": {"domain": [0, 0.3], "nice": false, "zero": false}, "axis": {"title": null, "values": [0, 0.05, 0.1, 0.15, 0.2, 0.25, 0.3], "minExtent": 60}},
               "color": {"field": "method", "type": "nominal", "scale": {"domain": [1, 2, 3, 4, 5, 6, 7], "range": ["#A5A5A5", "#ED7D31", "#70AD47", "#4472C4", "#00B050", "#FFC000", "#FF0000"]}, "legend": null},
               "shape": {"field": "method", "type": "nominal", "scale": {"domain": [1, 2, 3, 4, 5, 6, 7], "range": ["circle", "circle", "circle", "circle", "triangle-up", "circle", "circle"]}, "legend": null}}},
            {"data": {"name": "pts"}, "transform": [{"filter": "datum.panel === 'b1'"}], "mark": {"type": "text", "font": "Lato", "fontSize": 20, "dy": -23, "baseline": "middle", "color": "#000000"},
             "encoding": {"x": {"field": "x", "type": "quantitative", "scale": {"domain": [0.05, 0.3], "nice": false, "zero": false}, "axis": {"title": null, "values": [0.05, 0.1, 0.15, 0.2, 0.25, 0.3]}},
               "y": {"field": "y", "type": "quantitative", "scale": {"domain": [0, 0.3], "nice": false, "zero": false}, "axis": {"title": null, "values": [0, 0.05, 0.1, 0.15, 0.2, 0.25, 0.3], "minExtent": 60}}, "text": {"field": "method"}}},
            {"data": {"values": [{}]}, "mark": {"type": "text", "align": "left", "baseline": "middle", "font": "Liberation Sans", "fontSize": 15.5, "lineHeight": 18.5, "color": "#000000", "lineBreak": "\n", "text": "Simulation\nby ARX\nmodel (m)"},
             "encoding": {"x": {"datum": 0.0539, "type": "quantitative", "scale": {"domain": [0.05, 0.3], "nice": false, "zero": false}, "axis": {"title": null, "values": [0.05, 0.1, 0.15, 0.2, 0.25, 0.3]}},
               "y": {"datum": 0.2843, "type": "quantitative", "scale": {"domain": [0, 0.3], "nice": false, "zero": false}, "axis": {"title": null, "values": [0, 0.05, 0.1, 0.15, 0.2, 0.25, 0.3], "minExtent": 60}}}},
            {"data": {"values": [{}]}, "mark": {"type": "text", "align": "left", "baseline": "middle", "font": "Liberation Sans", "fontSize": 15.5, "lineHeight": 18.5, "color": "#000000", "lineBreak": "\n", "text": "Experimenl\nsimulation (m)"},
             "encoding": {"x": {"datum": 0.2122, "type": "quantitative", "scale": {"domain": [0.05, 0.3], "nice": false, "zero": false}, "axis": {"title": null, "values": [0.05, 0.1, 0.15, 0.2, 0.25, 0.3]}},
               "y": {"datum": 0.0447, "type": "quantitative", "scale": {"domain": [0, 0.3], "nice": false, "zero": false}, "axis": {"title": null, "values": [0, 0.05, 0.1, 0.15, 0.2, 0.25, 0.3], "minExtent": 60}}}}
          ]
        },
        {
          "width": 300, "height": 208,
          "title": {"text": "Sylmar excitation", "orient": "bottom", "frame": "group", "dx": -16, "offset": 8},
          "layer": [
            {"data": {"values": [{}]}, "mark": {"type": "rect", "fill": "white"},
             "encoding": {"x": {"datum": 0.051, "type": "quantitative", "scale": {"domain": [0.05, 0.3], "nice": false, "zero": false}, "axis": {"title": null, "values": [0.05, 0.1, 0.15, 0.2, 0.25, 0.3]}}, "x2": {"datum": 0.122},
               "y": {"datum": 0.222, "type": "quantitative", "scale": {"domain": [0, 0.3], "nice": false, "zero": false}, "axis": {"title": null, "values": [0, 0.05, 0.1, 0.15, 0.2, 0.25, 0.3], "minExtent": 94}}, "y2": {"datum": 0.299}}},
            {"data": {"values": [{}]}, "mark": {"type": "rect", "fill": "white"},
             "encoding": {"x": {"datum": 0.209, "type": "quantitative", "scale": {"domain": [0.05, 0.3], "nice": false, "zero": false}, "axis": {"title": null, "values": [0.05, 0.1, 0.15, 0.2, 0.25, 0.3]}}, "x2": {"datum": 0.299},
               "y": {"datum": 0.001, "type": "quantitative", "scale": {"domain": [0, 0.3], "nice": false, "zero": false}, "axis": {"title": null, "values": [0, 0.05, 0.1, 0.15, 0.2, 0.25, 0.3], "minExtent": 94}}, "y2": {"datum": 0.055}}},
            {"data": {"name": "lines"}, "transform": [{"filter": "datum.k === '1.2' || datum.k === '0.8'"}], "mark": {"type": "line", "clip": true, "color": "#A6A6A6", "strokeWidth": 1.3, "strokeDash": [6, 3]},
             "encoding": {"x": {"field": "x", "type": "quantitative", "scale": {"domain": [0.05, 0.3], "nice": false, "zero": false}, "axis": {"title": null, "values": [0.05, 0.1, 0.15, 0.2, 0.25, 0.3]}},
               "y": {"field": "y", "type": "quantitative", "scale": {"domain": [0, 0.3], "nice": false, "zero": false}, "axis": {"title": null, "values": [0, 0.05, 0.1, 0.15, 0.2, 0.25, 0.3], "minExtent": 94}}, "detail": {"field": "k"}}},
            {"data": {"name": "lines"}, "transform": [{"filter": "datum.k === '1.15' || datum.k === '0.85'"}], "mark": {"type": "line", "clip": true, "color": "#000000", "strokeWidth": 1.1, "strokeDash": [3, 2]},
             "encoding": {"x": {"field": "x", "type": "quantitative", "scale": {"domain": [0.05, 0.3], "nice": false, "zero": false}, "axis": {"title": null, "values": [0.05, 0.1, 0.15, 0.2, 0.25, 0.3]}},
               "y": {"field": "y", "type": "quantitative", "scale": {"domain": [0, 0.3], "nice": false, "zero": false}, "axis": {"title": null, "values": [0, 0.05, 0.1, 0.15, 0.2, 0.25, 0.3], "minExtent": 94}}, "detail": {"field": "k"}}},
            {"data": {"name": "lines"}, "transform": [{"filter": "datum.k === '1'"}], "mark": {"type": "line", "clip": true, "color": "#000000", "strokeWidth": 1.6},
             "encoding": {"x": {"field": "x", "type": "quantitative", "scale": {"domain": [0.05, 0.3], "nice": false, "zero": false}, "axis": {"title": null, "values": [0.05, 0.1, 0.15, 0.2, 0.25, 0.3]}},
               "y": {"field": "y", "type": "quantitative", "scale": {"domain": [0, 0.3], "nice": false, "zero": false}, "axis": {"title": null, "values": [0, 0.05, 0.1, 0.15, 0.2, 0.25, 0.3], "minExtent": 94}}, "detail": {"field": "k"}}},
            {"data": {"name": "pts"}, "transform": [{"filter": "datum.panel === 'b2'"}], "mark": {"type": "point", "filled": true, "opacity": 1, "size": 140},
             "encoding": {"x": {"field": "x", "type": "quantitative", "scale": {"domain": [0.05, 0.3], "nice": false, "zero": false}, "axis": {"title": null, "values": [0.05, 0.1, 0.15, 0.2, 0.25, 0.3]}},
               "y": {"field": "y", "type": "quantitative", "scale": {"domain": [0, 0.3], "nice": false, "zero": false}, "axis": {"title": null, "values": [0, 0.05, 0.1, 0.15, 0.2, 0.25, 0.3], "minExtent": 94}},
               "color": {"field": "method", "type": "nominal", "scale": {"domain": [1, 2, 3, 4, 5, 6, 7], "range": ["#A5A5A5", "#ED7D31", "#70AD47", "#4472C4", "#00B050", "#FFC000", "#FF0000"]}, "legend": null},
               "shape": {"field": "method", "type": "nominal", "scale": {"domain": [1, 2, 3, 4, 5, 6, 7], "range": ["circle", "circle", "circle", "circle", "triangle-up", "circle", "circle"]}, "legend": null}}},
            {"data": {"name": "pts"}, "transform": [{"filter": "datum.panel === 'b2'"}], "mark": {"type": "text", "font": "Lato", "fontSize": 20, "dy": -23, "baseline": "middle", "color": "#000000"},
             "encoding": {"x": {"field": "x", "type": "quantitative", "scale": {"domain": [0.05, 0.3], "nice": false, "zero": false}, "axis": {"title": null, "values": [0.05, 0.1, 0.15, 0.2, 0.25, 0.3]}},
               "y": {"field": "y", "type": "quantitative", "scale": {"domain": [0, 0.3], "nice": false, "zero": false}, "axis": {"title": null, "values": [0, 0.05, 0.1, 0.15, 0.2, 0.25, 0.3], "minExtent": 94}}, "text": {"field": "method"}}},
            {"data": {"values": [{}]}, "mark": {"type": "text", "align": "left", "baseline": "middle", "font": "Liberation Sans", "fontSize": 15.5, "lineHeight": 18.5, "color": "#000000", "lineBreak": "\n", "text": "Simulation\nby ARX\nmodel (m)"},
             "encoding": {"x": {"datum": 0.0536, "type": "quantitative", "scale": {"domain": [0.05, 0.3], "nice": false, "zero": false}, "axis": {"title": null, "values": [0.05, 0.1, 0.15, 0.2, 0.25, 0.3]}},
               "y": {"datum": 0.2818, "type": "quantitative", "scale": {"domain": [0, 0.3], "nice": false, "zero": false}, "axis": {"title": null, "values": [0, 0.05, 0.1, 0.15, 0.2, 0.25, 0.3], "minExtent": 94}}}},
            {"data": {"values": [{}]}, "mark": {"type": "text", "align": "left", "baseline": "middle", "font": "Liberation Sans", "fontSize": 15.5, "lineHeight": 18.5, "color": "#000000", "lineBreak": "\n", "text": "Experiment\nsimulation (m)"},
             "encoding": {"x": {"datum": 0.2111, "type": "quantitative", "scale": {"domain": [0.05, 0.3], "nice": false, "zero": false}, "axis": {"title": null, "values": [0.05, 0.1, 0.15, 0.2, 0.25, 0.3]}},
               "y": {"datum": 0.0423, "type": "quantitative", "scale": {"domain": [0, 0.3], "nice": false, "zero": false}, "axis": {"title": null, "values": [0, 0.05, 0.1, 0.15, 0.2, 0.25, 0.3], "minExtent": 94}}}}
          ]
        },
        {
          "width": 301, "height": 208,
          "title": {"text": "JR Takatori excitation", "orient": "bottom", "frame": "group", "dx": -17, "offset": 8},
          "layer": [
            {"data": {"values": [{}]}, "mark": {"type": "rect", "fill": "white"},
             "encoding": {"x": {"datum": 0.051, "type": "quantitative", "scale": {"domain": [0.05, 0.3], "nice": false, "zero": false}, "axis": {"title": null, "values": [0.05, 0.1, 0.15, 0.2, 0.25, 0.3]}}, "x2": {"datum": 0.122},
               "y": {"datum": 0.222, "type": "quantitative", "scale": {"domain": [0, 0.3], "nice": false, "zero": false}, "axis": {"title": null, "values": [0, 0.05, 0.1, 0.15, 0.2, 0.25, 0.3], "minExtent": 93}}, "y2": {"datum": 0.299}}},
            {"data": {"values": [{}]}, "mark": {"type": "rect", "fill": "white"},
             "encoding": {"x": {"datum": 0.21, "type": "quantitative", "scale": {"domain": [0.05, 0.3], "nice": false, "zero": false}, "axis": {"title": null, "values": [0.05, 0.1, 0.15, 0.2, 0.25, 0.3]}}, "x2": {"datum": 0.299},
               "y": {"datum": 0.001, "type": "quantitative", "scale": {"domain": [0, 0.3], "nice": false, "zero": false}, "axis": {"title": null, "values": [0, 0.05, 0.1, 0.15, 0.2, 0.25, 0.3], "minExtent": 93}}, "y2": {"datum": 0.057}}},
            {"data": {"name": "lines"}, "transform": [{"filter": "datum.k === '1.2' || datum.k === '0.8'"}], "mark": {"type": "line", "clip": true, "color": "#A6A6A6", "strokeWidth": 1.3, "strokeDash": [6, 3]},
             "encoding": {"x": {"field": "x", "type": "quantitative", "scale": {"domain": [0.05, 0.3], "nice": false, "zero": false}, "axis": {"title": null, "values": [0.05, 0.1, 0.15, 0.2, 0.25, 0.3]}},
               "y": {"field": "y", "type": "quantitative", "scale": {"domain": [0, 0.3], "nice": false, "zero": false}, "axis": {"title": null, "values": [0, 0.05, 0.1, 0.15, 0.2, 0.25, 0.3], "minExtent": 93}}, "detail": {"field": "k"}}},
            {"data": {"name": "lines"}, "transform": [{"filter": "datum.k === '1.15' || datum.k === '0.85'"}], "mark": {"type": "line", "clip": true, "color": "#000000", "strokeWidth": 1.1, "strokeDash": [3, 2]},
             "encoding": {"x": {"field": "x", "type": "quantitative", "scale": {"domain": [0.05, 0.3], "nice": false, "zero": false}, "axis": {"title": null, "values": [0.05, 0.1, 0.15, 0.2, 0.25, 0.3]}},
               "y": {"field": "y", "type": "quantitative", "scale": {"domain": [0, 0.3], "nice": false, "zero": false}, "axis": {"title": null, "values": [0, 0.05, 0.1, 0.15, 0.2, 0.25, 0.3], "minExtent": 93}}, "detail": {"field": "k"}}},
            {"data": {"name": "lines"}, "transform": [{"filter": "datum.k === '1'"}], "mark": {"type": "line", "clip": true, "color": "#000000", "strokeWidth": 1.6},
             "encoding": {"x": {"field": "x", "type": "quantitative", "scale": {"domain": [0.05, 0.3], "nice": false, "zero": false}, "axis": {"title": null, "values": [0.05, 0.1, 0.15, 0.2, 0.25, 0.3]}},
               "y": {"field": "y", "type": "quantitative", "scale": {"domain": [0, 0.3], "nice": false, "zero": false}, "axis": {"title": null, "values": [0, 0.05, 0.1, 0.15, 0.2, 0.25, 0.3], "minExtent": 93}}, "detail": {"field": "k"}}},
            {"data": {"name": "pts"}, "transform": [{"filter": "datum.panel === 'b3'"}], "mark": {"type": "point", "filled": true, "opacity": 1, "size": 140},
             "encoding": {"x": {"field": "x", "type": "quantitative", "scale": {"domain": [0.05, 0.3], "nice": false, "zero": false}, "axis": {"title": null, "values": [0.05, 0.1, 0.15, 0.2, 0.25, 0.3]}},
               "y": {"field": "y", "type": "quantitative", "scale": {"domain": [0, 0.3], "nice": false, "zero": false}, "axis": {"title": null, "values": [0, 0.05, 0.1, 0.15, 0.2, 0.25, 0.3], "minExtent": 93}},
               "color": {"field": "method", "type": "nominal", "scale": {"domain": [1, 2, 3, 4, 5, 6, 7], "range": ["#A5A5A5", "#ED7D31", "#70AD47", "#4472C4", "#00B050", "#FFC000", "#FF0000"]}, "legend": null},
               "shape": {"field": "method", "type": "nominal", "scale": {"domain": [1, 2, 3, 4, 5, 6, 7], "range": ["circle", "circle", "circle", "circle", "triangle-up", "circle", "circle"]}, "legend": null}}},
            {"data": {"name": "pts"}, "transform": [{"filter": "datum.panel === 'b3'"}], "mark": {"type": "text", "font": "Lato", "fontSize": 20, "dy": -23, "baseline": "middle", "color": "#000000"},
             "encoding": {"x": {"field": "x", "type": "quantitative", "scale": {"domain": [0.05, 0.3], "nice": false, "zero": false}, "axis": {"title": null, "values": [0.05, 0.1, 0.15, 0.2, 0.25, 0.3]}},
               "y": {"field": "y", "type": "quantitative", "scale": {"domain": [0, 0.3], "nice": false, "zero": false}, "axis": {"title": null, "values": [0, 0.05, 0.1, 0.15, 0.2, 0.25, 0.3], "minExtent": 93}}, "text": {"field": "method"}}},
            {"data": {"values": [{}]}, "mark": {"type": "text", "align": "left", "baseline": "middle", "font": "Liberation Sans", "fontSize": 15.5, "lineHeight": 18.5, "color": "#000000", "lineBreak": "\n", "text": "Simulation\nby ARX\nmodel (m)"},
             "encoding": {"x": {"datum": 0.0531, "type": "quantitative", "scale": {"domain": [0.05, 0.3], "nice": false, "zero": false}, "axis": {"title": null, "values": [0.05, 0.1, 0.15, 0.2, 0.25, 0.3]}},
               "y": {"datum": 0.2818, "type": "quantitative", "scale": {"domain": [0, 0.3], "nice": false, "zero": false}, "axis": {"title": null, "values": [0, 0.05, 0.1, 0.15, 0.2, 0.25, 0.3], "minExtent": 93}}}},
            {"data": {"values": [{}]}, "mark": {"type": "text", "align": "left", "baseline": "middle", "font": "Liberation Sans", "fontSize": 15.5, "lineHeight": 18.5, "color": "#000000", "lineBreak": "\n", "text": "Experiment\nsimulation (m)"},
             "encoding": {"x": {"datum": 0.2117, "type": "quantitative", "scale": {"domain": [0.05, 0.3], "nice": false, "zero": false}, "axis": {"title": null, "values": [0.05, 0.1, 0.15, 0.2, 0.25, 0.3]}},
               "y": {"datum": 0.0462, "type": "quantitative", "scale": {"domain": [0, 0.3], "nice": false, "zero": false}, "axis": {"title": null, "values": [0, 0.05, 0.1, 0.15, 0.2, 0.25, 0.3], "minExtent": 93}}}}
          ]
        }
      ]
    }
  ],
  "config": {
    "view": {"stroke": "#000000", "strokeWidth": 1.3},
    "axis": {"labelFont": "Lato", "labelFontSize": 13, "labelColor": "#404040", "ticks": false, "domain": false, "grid": true, "gridColor": "#D9D9D9", "gridWidth": 1, "format": "~g", "labelFlush": false, "labelOverlap": false},
    "axisX": {"labelPadding": 11},
    "axisY": {"labelPadding": 16},
    "title": {"font": "Liberation Sans", "fontStyle": "italic", "fontWeight": "normal", "fontSize": 27, "color": "#000000"}
  }
}
